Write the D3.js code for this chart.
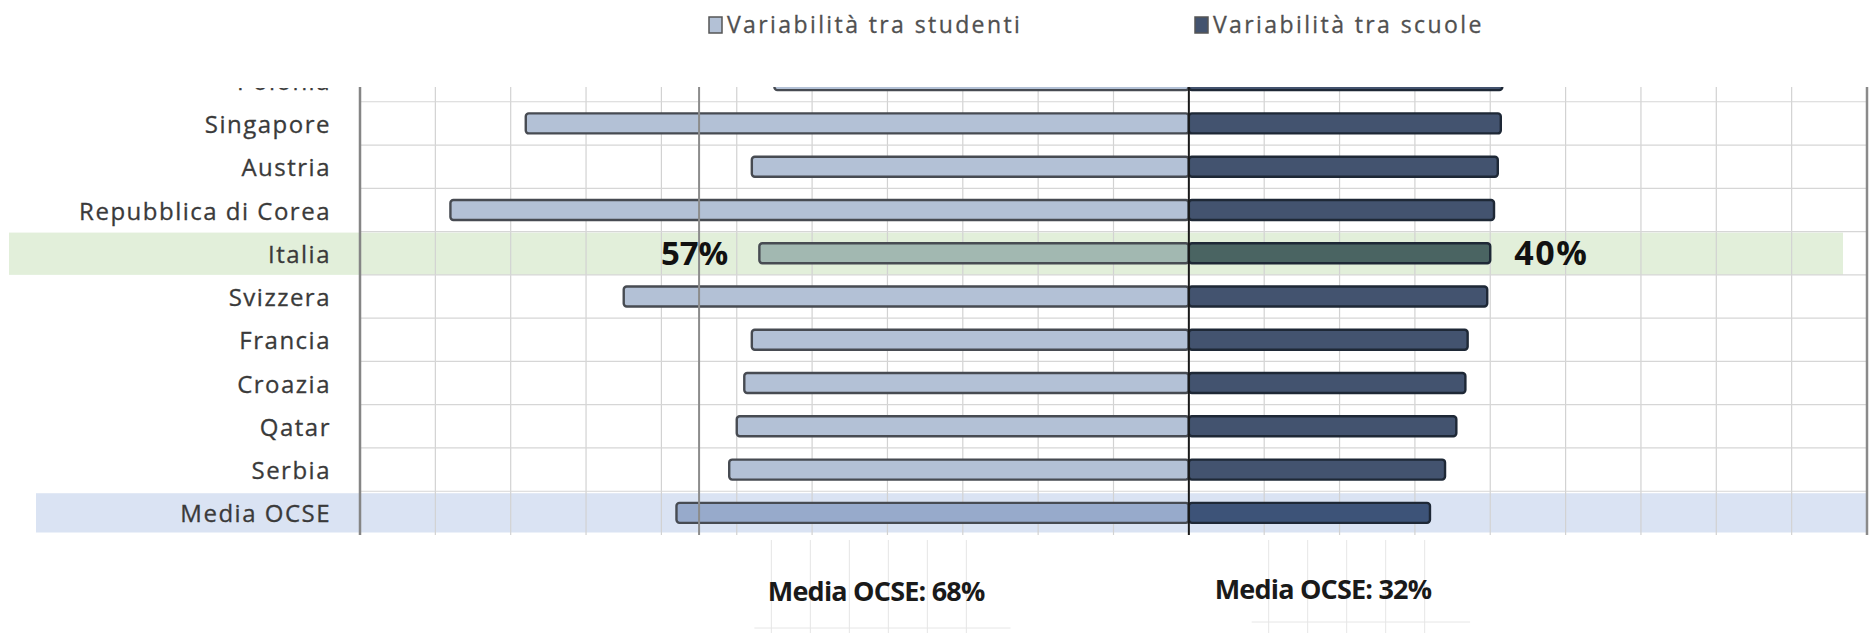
<!DOCTYPE html>
<html>
<head>
<meta charset="utf-8">
<script src="https://cdn.jsdelivr.net/npm/d3@7"></script>
<style>
  body { margin: 0; background: #fff; }
  svg { display: block; }
</style>
</head>
<body>
<script>
// data
var COUNTRIES = ["Polonia", "Singapore", "Austria", "Repubblica di Corea", "Italia", "Svizzera",
                 "Francia", "Croazia", "Qatar", "Serbia", "Media OCSE"];
var STUDENTI = [55, 88, 58, 98, 57, 75, 58, 59, 60, 61, 68];
var SCUOLE = [41.6, 41.4, 41, 40.5, 40, 39.6, 37, 36.7, 35.5, 34, 32];
var LEGEND_LABELS = ["Variabilità tra studenti", "Variabilità tra scuole"];
var ITALIA_LABELS = ["57%", "40%"];
var NOTE_LABELS = ["Media OCSE: 68%", "Media OCSE: 32%"];
var NOTE_POS = [-41.5, 17.8];
var X_TICKS = d3.range(-110, 91, 10);
var REF_LINE = -65;

var w = 1875, h = 633;
var PLOT_TOP = 87, PLOT_BOTTOM = 535;
var LABEL_FONT = "'Open Sans', 'Noto Sans', sans-serif";

var SVG = d3.select("body").append("svg").attr("width", w).attr("height", h);

var x = d3.scaleLinear().domain([-110, 90]).range([360, 1867]);
var y = d3.scaleBand().domain(COUNTRIES).range([58.5, 534.5]).paddingInner(0.5).paddingOuter(0.25);
var step = y.step();
function rowTop(c) { return y(c) - y.paddingInner() * step / 2; }
function rowMid(c) { return y(c) + y.bandwidth() / 2; }

SVG.append("defs").append("clipPath").attr("id", "plotclip")
   .append("rect").attr("x", 0).attr("y", PLOT_TOP).attr("width", w).attr("height", PLOT_BOTTOM - PLOT_TOP + 2);

// highlight bands
var BANDS = SVG.append("g").attr("clip-path", "url(#plotclip)");
BANDS.append("rect")
     .attr("x", 9).attr("width", 1843 - 9)
     .attr("y", rowTop("Italia") + 1).attr("height", step - 1)
     .attr("fill", "#e2efda");
BANDS.append("rect")
     .attr("x", 36).attr("width", x(90) - 36)
     .attr("y", rowTop("Media OCSE") + 2).attr("height", step - 4)
     .attr("fill", "#dae3f3");

// grid
var GRID = SVG.append("g").attr("clip-path", "url(#plotclip)");
GRID.selectAll(".vgrid").data(X_TICKS).enter().append("line")
    .attr("class", "vgrid")
    .attr("x1", function(d) { return x(d); }).attr("x2", function(d) { return x(d); })
    .attr("y1", PLOT_TOP).attr("y2", PLOT_BOTTOM)
    .attr("stroke", "#d2d2d2").attr("stroke-width", 1.2);
GRID.selectAll(".hgrid").data(COUNTRIES.slice(1)).enter().append("line")
    .attr("class", "hgrid")
    .attr("x1", x(-110)).attr("x2", x(90))
    .attr("y1", function(d) { return rowTop(d); }).attr("y2", function(d) { return rowTop(d); })
    .attr("stroke", "#d6d6d6").attr("stroke-width", 1.2);

// faint grids under the plot (left over from the pasted notes)
var NOTEGRID = SVG.append("g").attr("stroke", "#e6e6e6").attr("stroke-width", 1);
[[-57, -25, 6, 628], [9, 36, 5, 622]].forEach(function(g) {
  var xs = d3.range(g[2]).map(function(i) { return x(g[0]) + 12 + i * 39; });
  NOTEGRID.selectAll(null).data(xs).enter().append("line")
     .attr("x1", function(d) { return d; }).attr("x2", function(d) { return d; })
     .attr("y1", 540).attr("y2", 633);
  NOTEGRID.append("line").attr("x1", x(g[0]) - 5).attr("x2", x(g[1]) + 10)
     .attr("y1", g[3]).attr("y2", g[3]);
});

// bars
var BARS = SVG.append("g").attr("clip-path", "url(#plotclip)");
var BAR_H = 20;
function leftFill(c) { return c === "Italia" ? "#a2b8b1" : c === "Media OCSE" ? "#97aacb" : "#b3c1d6"; }
function rightFill(c) { return c === "Italia" ? "#4a6462" : c === "Media OCSE" ? "#3d5378" : "#43536f"; }

BARS.selectAll(".bar-stud").data(COUNTRIES).enter().append("rect")
    .attr("class", "bar-stud")
    .attr("x", function(d, i) { return x(-STUDENTI[i]); })
    .attr("width", function(d, i) { return x(0) - x(-STUDENTI[i]); })
    .attr("y", function(d) { return rowMid(d) - BAR_H / 2; })
    .attr("height", BAR_H)
    .attr("rx", 3)
    .attr("fill", leftFill)
    .attr("stroke", "#474b52").attr("stroke-width", 2.4);

BARS.selectAll(".bar-scu").data(COUNTRIES).enter().append("rect")
    .attr("class", "bar-scu")
    .attr("x", x(0))
    .attr("width", function(d, i) { return x(SCUOLE[i]) - x(0); })
    .attr("y", function(d) { return rowMid(d) - BAR_H / 2; })
    .attr("height", BAR_H)
    .attr("rx", 3)
    .attr("fill", rightFill)
    .attr("stroke", "#1e2836").attr("stroke-width", 2.4);

// axis lines
var AXES = SVG.append("g");
AXES.append("line").attr("x1", x(-110)).attr("x2", x(-110)).attr("y1", PLOT_TOP).attr("y2", PLOT_BOTTOM)
    .attr("stroke", "#858585").attr("stroke-width", 2.5);
AXES.append("line").attr("x1", x(90)).attr("x2", x(90)).attr("y1", PLOT_TOP).attr("y2", PLOT_BOTTOM)
    .attr("stroke", "#8a8a8a").attr("stroke-width", 2.5);
AXES.append("line").attr("x1", x(REF_LINE)).attr("x2", x(REF_LINE)).attr("y1", PLOT_TOP).attr("y2", PLOT_BOTTOM)
    .attr("stroke", "#8c8c8c").attr("stroke-width", 2);
AXES.append("line").attr("x1", x(0)).attr("x2", x(0)).attr("y1", PLOT_TOP).attr("y2", PLOT_BOTTOM)
    .attr("stroke", "#1a1a1a").attr("stroke-width", 2);

// category labels
SVG.append("defs").append("clipPath").attr("id", "labelclip")
   .append("rect").attr("x", 0).attr("y", 88).attr("width", 360).attr("height", 460);
SVG.append("g").attr("clip-path", "url(#labelclip)")
   .selectAll(".cat").data(COUNTRIES).enter().append("text")
   .attr("class", "cat")
   .attr("x", 331)
   .attr("y", rowMid)
   .attr("dy", "0.4em")
   .attr("text-anchor", "end")
   .attr("font-family", LABEL_FONT)
   .attr("font-size", 24)
   .attr("letter-spacing", 1.5)
   .attr("fill", "#3a3a3a")
   .attr("stroke", "#3a3a3a").attr("stroke-width", 0.3)
   .text(function(d) { return d; });

// Italia value labels
var iIt = COUNTRIES.indexOf("Italia");
SVG.append("text").attr("x", x(-STUDENTI[iIt]) - 31).attr("y", rowMid("Italia")).attr("dy", "0.36em")
   .attr("text-anchor", "end").attr("font-family", LABEL_FONT).attr("font-weight", "bold")
   .attr("font-size", 33).attr("fill", "#111").text(ITALIA_LABELS[0]);
SVG.append("text").attr("x", x(SCUOLE[iIt]) + 24).attr("y", rowMid("Italia")).attr("dy", "0.36em")
   .attr("text-anchor", "start").attr("font-family", LABEL_FONT).attr("font-weight", "bold")
   .attr("font-size", 34).attr("letter-spacing", 1.5).attr("fill", "#111").text(ITALIA_LABELS[1]);

// notes under the plot
SVG.selectAll(".note").data(NOTE_LABELS).enter().append("text")
   .attr("class", "note")
   .attr("x", function(d, i) { return x(NOTE_POS[i]); })
   .attr("y", function(d, i) { return i === 0 ? 591 : 589; })
   .attr("dy", "0.36em")
   .attr("text-anchor", "middle")
   .attr("font-family", LABEL_FONT).attr("font-weight", "bold")
   .attr("font-size", 27).attr("letter-spacing", -0.8)
   .attr("fill", "#1a1a1a")
   .text(function(d) { return d; });

// legend
var LEGEND = SVG.append("g");
var LEG_X = [709, 1195];
var LEG_FILL = ["#b3c1d6", "#43536f"];
LEGEND.selectAll(".legbox").data(LEGEND_LABELS).enter().append("rect")
      .attr("class", "legbox")
      .attr("x", function(d, i) { return LEG_X[i]; }).attr("y", 17)
      .attr("width", 13).attr("height", 16)
      .attr("fill", function(d, i) { return LEG_FILL[i]; })
      .attr("stroke", "#555").attr("stroke-width", 1.5);
LEGEND.selectAll(".legtext").data(LEGEND_LABELS).enter().append("text")
      .attr("class", "legtext")
      .attr("x", function(d, i) { return LEG_X[i] + 18; }).attr("y", 25)
      .attr("dy", "0.36em")
      .attr("font-family", LABEL_FONT)
      .attr("font-size", 23).attr("letter-spacing", 2.4)
      .attr("fill", "#505050")
      .attr("stroke", "#505050").attr("stroke-width", 0.3)
      .text(function(d) { return d; });
</script>
</body>
</html>
